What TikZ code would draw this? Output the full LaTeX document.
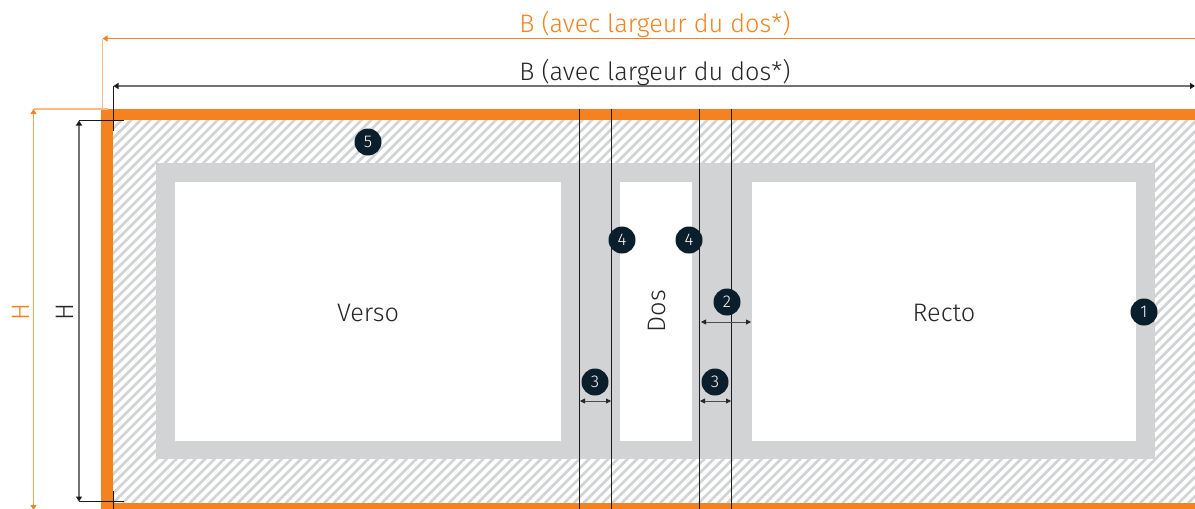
\documentclass[tikz,border=0pt]{standalone}
\usepackage{fontspec}
\setmainfont{Fira Sans Light}
\usetikzlibrary{arrows.meta}
\definecolor{printorange}{HTML}{F58220}
\definecolor{safegrey}{HTML}{D1D3D4}
\definecolor{badgeblue}{HTML}{0A1E2C}
\tikzset{
  dimline/.style={line width=1.4pt,black!55,{Triangle[length=5pt,width=6pt,color=black!90]}-{Triangle[length=5pt,width=6pt,color=black!90]}},
  smalldim/.style={line width=.9pt,black!70,{Triangle[length=5pt,width=5pt,color=black!85]}-{Triangle[length=5pt,width=5pt,color=black!85]}},
  orangedim/.style={line width=1pt,printorange,-{Triangle[length=5pt,width=6pt]}},
  guide/.style={line width=1.2pt,black!90},
  orangeguide/.style={line width=1.4pt,printorange!55},
  badge/.style={circle,fill=badgeblue,text=white,inner sep=0pt,minimum size=27pt,font=\fontsize{17}{17}\selectfont},
  panel/.style={fill=white},
  lab/.style={font=\fontsize{25.3}{25.3}\selectfont,inner sep=0pt,text=black!85}
}
\begin{document}
\begin{tikzpicture}[x=1pt,y=-1pt]
  \useasboundingbox (0,0) rectangle (1195,509);
  % hatched bleed
  \begin{scope}
    \clip (113,120) rectangle (1195,503);
    \foreach \i in {-45,...,125} \draw[safegrey,line width=2.6pt] (113+\i*9.6,503) -- ++(400,-400);
  \end{scope}
  % orange bleed bars
  \fill[printorange] (101,109) rectangle (1195,120);
  \fill[printorange] (101,109) rectangle (113,509);
  \fill[printorange] (101,503) rectangle (1195,509);
  % safety band and panels
  \fill[safegrey] (156,163) rectangle (1155,459);
  \fill[panel] (175,182) rectangle (561,441);
  \fill[panel] (620,182) rectangle (692,441);
  \fill[panel] (752,182) rectangle (1136,441);
  \node[lab] (verso) at (368,313) {Verso};
  \node[lab] (recto) at (944,313) {Recto};
  \node[lab,rotate=90] (dos) at (657,311) {Dos};
  % fold lines
  \coordinate (fa) at (579.5,109); \coordinate (fa') at (579.5,509);
  \coordinate (fb) at (611.5,109); \coordinate (fb') at (611.5,509);
  \coordinate (fc) at (699.5,109); \coordinate (fc') at (699.5,509);
  \coordinate (fd) at (731.5,109); \coordinate (fd') at (731.5,509);
  \foreach \f in {a,b,c,d} \draw[guide] (f\f) -- (f\f');
  % orange outer dimensions
  \coordinate (bo) at (1195,38.5); \coordinate (bo') at (102.5,38.5); \coordinate (bo2) at (102.5,109);
  \draw[orangeguide] (bo') -- (bo2);
  \draw[orangedim] (bo) -- (bo');
  \node[lab,text=printorange] (bolab) at (655,25) {B (avec largeur du dos*)};
  \coordinate (ho) at (33.5,109); \coordinate (ho') at (33.5,510); \coordinate (ho2) at (108,109);
  \draw[orangeguide] (ho) -- (ho2);
  \draw[orangedim,printorange!75,{Triangle[length=5pt,width=6pt,color=printorange]}-{Triangle[length=5pt,width=6pt,color=printorange]}] (ho) -- (ho');
  \node[lab,text=printorange,rotate=90] (holab) at (21,312) {H};
  % black inner dimensions
  \coordinate (bk) at (113.5,86); \coordinate (bk') at (1195,86); \coordinate (bk2) at (113.5,131);
  \draw[guide] (bk) -- (bk2);
  \draw[dimline] (bk) -- (bk');
  \node[lab] (bklab) at (655,73) {B (avec largeur du dos*)};
  \coordinate (hk) at (79,120.5); \coordinate (hk') at (79,501.5);
  \coordinate (hk2) at (124,120.5); \coordinate (hk3) at (124,501.5);
  \coordinate (vk) at (113.5,491); \coordinate (vk') at (113.5,509);
  \draw[guide] (hk) -- (hk2);
  \draw[guide] (hk') -- (hk3);
  \draw[guide] (vk) -- (vk');
  \draw[dimline] (hk) -- (hk');
  \node[lab,rotate=90] (hklab) at (65,312) {H};
  % small dimensions
  \coordinate (ta) at (580,401); \coordinate (tb) at (611,401);
  \coordinate (tc) at (700,401); \coordinate (td) at (731,401);
  \coordinate (te) at (701,322); \coordinate (tf) at (751,322);
  \draw[smalldim] (ta) -- (tb);
  \draw[smalldim] (tc) -- (td);
  \draw[smalldim] (te) -- (tf);
  % numbered badges
  \node[badge] (n5) at (368,142) {5};
  \node[badge] (n1) at (1144,312) {1};
  \node[badge] (n2) at (727,302) {2};
  \node[badge] (n3a) at (595,382) {3};
  \node[badge] (n3b) at (715,382) {3};
  \node[badge] (n4a) at (622,240) {4};
  \node[badge] (n4b) at (689,240) {4};
\end{tikzpicture}
\end{document}
